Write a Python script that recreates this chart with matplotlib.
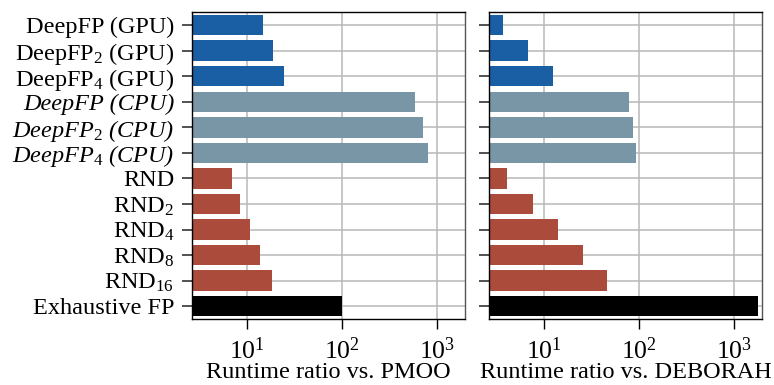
import matplotlib
matplotlib.use("Agg")
import matplotlib.pyplot as plt
import numpy as np

plt.rcParams['font.family'] = ['Liberation Serif', 'DejaVu Serif']
plt.rcParams['mathtext.fontset'] = 'custom'
plt.rcParams['mathtext.rm'] = 'Liberation Serif'
plt.rcParams['mathtext.it'] = 'Liberation Serif:italic'
plt.rcParams['mathtext.bf'] = 'Liberation Serif:bold'

labels = ["DeepFP (GPU)", r"DeepFP$_2$ (GPU)", r"DeepFP$_4$ (GPU)",
          "DeepFP (CPU)", r"DeepFP$_\mathit{2}$ (CPU)", r"DeepFP$_\mathit{4}$ (CPU)",
          "RND", r"RND$_2$", r"RND$_4$", r"RND$_8$", r"RND$_{16}$", "Exhaustive FP"]
groups = ["gpu", "gpu", "gpu", "cpu", "cpu", "cpu", "rnd", "rnd", "rnd", "rnd", "rnd", "exh"]
ratio_pmoo = [14.9, 18.9, 24.7, 591, 718, 811, 7.0, 8.5, 10.8, 13.8, 18.5, 100]
ratio_deborah = [3.77, 6.9, 12.6, 79.8, 87.9, 94.4, 4.15, 7.8, 14.3, 26.2, 46.9, 1820]
xlabels = ["Runtime ratio vs. PMOO", "Runtime ratio vs. DEBORAH"]

color_map = {"gpu": "#1a5fa3", "cpu": "#7896a5", "rnd": "#ab4b3b", "exh": "#000000"}
colors = [color_map[g] for g in groups]

FS = 17.5
fig = plt.figure(figsize=(7.74, 3.85), dpi=100)
W, H = 774, 385
ax1 = fig.add_axes([192.3 / W, 1 - 319 / H, (465 - 192.3) / W, (319 - 12.3) / H])
ax2 = fig.add_axes([489.3 / W, 1 - 319 / H, (762 - 489.3) / W, (319 - 12.3) / H])

y = np.arange(len(labels))
for ax, vals, xl in [(ax1, ratio_pmoo, xlabels[0]), (ax2, ratio_deborah, xlabels[1])]:
    ax.barh(y, vals, height=0.8, color=colors, left=0.01, zorder=2)
    ax.set_xscale('log')
    ax.set_xlim(2.68, 1990)
    ax.set_ylim(11.5, -0.5)
    ax.set_yticks(y)
    ax.set_xticks([10, 100, 1000])
    ax.set_xticklabels([r"$10^{1}$", r"$10^{2}$", r"$10^{3}$"])
    ax.set_xticks([], minor=True)
    ax.grid(True, color='#b8b8b8', linewidth=1.1, zorder=0)
    ax.set_axisbelow(True)
    ax.tick_params(axis='x', which='major', length=7.5, width=1, labelsize=18.5, pad=6)
    ax.tick_params(axis='y', length=7, width=1.2, labelsize=FS, pad=6, color='#333333')
    ax.set_xlabel(xl, fontsize=FS)
    ax.xaxis.set_label_coords(0.5, -0.14)
    for s in ax.spines.values():
        s.set_linewidth(1.0)
        s.set_color('black')
    ax.spines['right'].set_color('#555555')

ax1.set_yticklabels(labels)
for i, t in enumerate(ax1.get_yticklabels()):
    if groups[i] == "cpu":
        t.set_fontstyle('italic')
ax2.set_yticklabels([])

fig.savefig("out.png", dpi=100)
